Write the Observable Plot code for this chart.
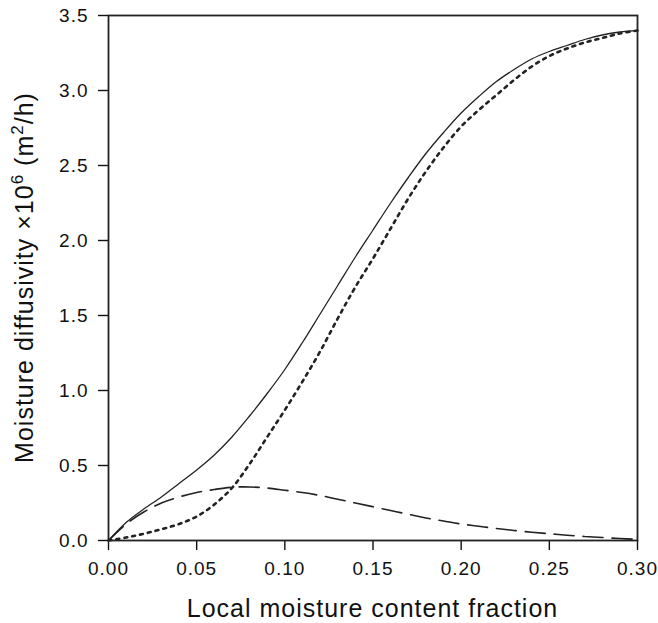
<!DOCTYPE html>
<html><head><meta charset="utf-8">
<script src="https://cdn.jsdelivr.net/npm/d3@7"></script>
<script src="https://cdn.jsdelivr.net/npm/@observablehq/plot@0.6"></script>
<style>body{margin:0;background:#fff}</style>
</head><body><div id="chart"></div>
<script>
// Local moisture content fraction (x)
const moisture = [0,0.01,0.02,0.03,0.04,0.05,0.06,0.07,0.08,0.09,0.10,0.11,0.12,0.13,0.14,0.15,0.16,0.17,0.18,0.19,0.20,0.21,0.22,0.23,0.24,0.25,0.26,0.27,0.28,0.29,0.30];
// Solid curve
const solidSeries = [0,0.12,0.21,0.29,0.38,0.47,0.57,0.69,0.83,0.98,1.14,1.32,1.51,1.70,1.89,2.07,2.25,2.42,2.58,2.72,2.85,2.96,3.06,3.14,3.21,3.26,3.30,3.34,3.37,3.39,3.40];
// Dotted curve
const dottedSeries = [0,0.02,0.045,0.075,0.11,0.16,0.24,0.35,0.51,0.69,0.87,1.06,1.26,1.48,1.69,1.88,2.08,2.28,2.46,2.62,2.76,2.87,2.97,3.07,3.16,3.23,3.28,3.32,3.35,3.38,3.40];
// Dashed curve
const dashedSeries = [0,0.11,0.19,0.25,0.29,0.32,0.34,0.355,0.357,0.35,0.335,0.32,0.30,0.275,0.25,0.225,0.20,0.175,0.15,0.13,0.11,0.095,0.08,0.067,0.055,0.045,0.035,0.027,0.02,0.013,0.008];
const xTicks = [0,0.05,0.10,0.15,0.20,0.25,0.30];
const yTicks = [0,0.5,1.0,1.5,2.0,2.5,3.0,3.5];
const xLabel = "Local moisture content fraction";
const yLabelMain = "Moisture diffusivity \u00d710";
const yLabelExp = "6";
const yLabelUnitA = " (m";
const yLabelUnitExp = "2";
const yLabelUnitB = "/h)";

const solidRows = moisture.map((m, i) => ({m, v: solidSeries[i]}));
const dottedRows = moisture.map((m, i) => ({m, v: dottedSeries[i]}));
const dashedRows = moisture.map((m, i) => ({m, v: dashedSeries[i]}));

const W = 658, H = 623;
const chart = Plot.plot({
  width: W, height: H,
  marginLeft: 108, marginRight: 21, marginTop: 15, marginBottom: 83,
  style: {fontFamily: "'Liberation Sans', Arial, Helvetica, sans-serif", letterSpacing: "1px", color: "#111", background: "#fff"},
  x: {domain: [0, 0.30]},
  y: {domain: [0, 3.5]},
  marks: [
    Plot.axisX(xTicks, {tickFormat: d3.format(".2f"), tickSize: 10, tickPadding: 11, fontSize: 19, label: null, strokeWidth: 1.4}),
    Plot.axisY(yTicks, {tickFormat: d3.format(".1f"), tickSize: 10, tickPadding: 10, fontSize: 19, label: null, strokeWidth: 1.4}),
    Plot.line(dashedRows, {x: "m", y: "v", curve: "catmull-rom", stroke: "#222", strokeWidth: 1.6, strokeDasharray: "20,9"}),
    Plot.line(dottedRows, {x: "m", y: "v", curve: "catmull-rom", stroke: "#222", strokeWidth: 2.6, strokeDasharray: "3,5"}),
    Plot.line(solidRows, {x: "m", y: "v", curve: "catmull-rom", stroke: "#222", strokeWidth: 1.3}),
    Plot.frame({stroke: "#222", strokeWidth: 1.8})
  ]
});
document.getElementById("chart").appendChild(chart);

const svg = d3.select(chart);
svg.append("text")
  .attr("x", (108 + (W - 21)) / 2).attr("y", 617)
  .attr("text-anchor", "middle").attr("font-size", 25).attr("fill", "#111")
  .text(xLabel);
const yl = svg.append("text")
  .attr("transform", `translate(33,${(15 + 540) / 2}) rotate(-90)`)
  .attr("text-anchor", "middle").attr("font-size", 25).attr("fill", "#111");
yl.append("tspan").text(yLabelMain);
yl.append("tspan").attr("font-size", 17).attr("dy", -10).text(yLabelExp);
yl.append("tspan").attr("dy", 10).text(yLabelUnitA);
yl.append("tspan").attr("font-size", 17).attr("dy", -10).text(yLabelUnitExp);
yl.append("tspan").attr("dy", 10).text(yLabelUnitB);
</script>
</body></html>
